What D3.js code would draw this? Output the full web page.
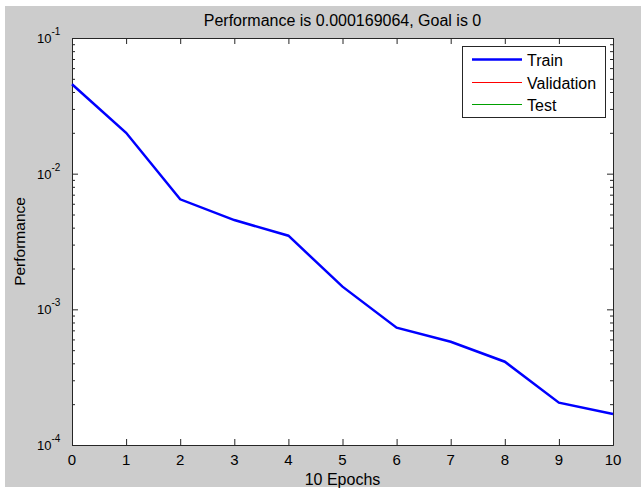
<html>
<head>
<script src="https://d3js.org/d3.v7.min.js"></script>
<style>
  body { margin: 0; background: #fff; }
  text { font-family: "Liberation Sans", Arial, sans-serif; fill: #000; }
  .ax .domain { stroke: #262626; }
  .ax line { stroke: #262626; }
</style>
</head>
<body>
<script>
// data
const epochs = [0, 1, 2, 3, 4, 5, 6, 7, 8, 9, 10];
const trainPerf = [0.0456, 0.0200, 0.00647, 0.00455, 0.00349, 0.00147, 0.000732, 0.000577, 0.000411, 0.000205, 0.000169];
const yMajor = [1e-4, 1e-3, 1e-2, 1e-1];
const yExp = [-4, -3, -2, -1];
const legendNames = ['Train', 'Validation', 'Test'];
const legendColors = ['#0000ff', '#ff0000', '#00a000'];
const legendWidths = [2.5, 1, 1];

const W = 641, H = 497;
const svg = d3.select('body').append('svg').attr('width', W).attr('height', H);

// figure background
svg.append('rect').attr('x', 5).attr('y', 6).attr('width', W - 5).attr('height', 481).attr('fill', '#cccccc');

const m = {left: 72, top: 38, right: 613, bottom: 445};
const pw = m.right - m.left, ph = m.bottom - m.top;

const x = d3.scaleLinear().domain([0, 10]).range([0, pw]);
const y = d3.scaleLog().domain([1e-4, 1e-1]).range([ph, 0]);

const g = svg.append('g').attr('transform', `translate(${m.left},${m.top})`);
g.append('rect').attr('width', pw).attr('height', ph).attr('fill', '#fff');

// minor ticks for log axis
let minors = [];
[1e-4, 1e-3, 1e-2].forEach(d => { for (let k = 2; k <= 9; k++) minors.push(d * k); });

// bottom + top axes
g.append('g').attr('class', 'ax').attr('transform', `translate(0,${ph})`)
  .call(d3.axisBottom(x).tickValues(epochs).tickSize(-6).tickSizeOuter(0).tickFormat(''));
g.append('g').attr('class', 'ax')
  .call(d3.axisTop(x).tickValues(epochs).tickSize(-6).tickSizeOuter(0).tickFormat(''));
// left + right axes
g.append('g').attr('class', 'ax')
  .call(d3.axisLeft(y).tickValues(yMajor).tickSize(-6).tickSizeOuter(0).tickFormat(''));
g.append('g').attr('class', 'ax')
  .call(d3.axisLeft(y).tickValues(minors).tickSize(-3).tickSizeOuter(0).tickFormat(''));
g.append('g').attr('class', 'ax').attr('transform', `translate(${pw},0)`)
  .call(d3.axisRight(y).tickValues(yMajor).tickSize(-6).tickSizeOuter(0).tickFormat(''));
g.append('g').attr('class', 'ax').attr('transform', `translate(${pw},0)`)
  .call(d3.axisRight(y).tickValues(minors).tickSize(-3).tickSizeOuter(0).tickFormat(''));

// x tick labels
g.selectAll('.xl').data(epochs).enter().append('text')
  .attr('x', d => x(d)).attr('y', ph + 20)
  .attr('text-anchor', 'middle').style('font-size', '15px')
  .text(d => d);

// y tick labels with superscripts
yMajor.forEach((d, i) => {
  const t = g.append('text').attr('x', -35).attr('y', y(d) + 5).style('font-size', '13px');
  t.append('tspan').text('10');
  t.append('tspan').attr('dy', -8).style('font-size', '10px').text(yExp[i]);
});

// train line
g.append('path')
  .datum(epochs.map((e, i) => [e, trainPerf[i]]))
  .attr('fill', 'none').attr('stroke', '#0000ff').attr('stroke-width', 2.5)
  .attr('d', d3.line().x(d => x(d[0])).y(d => y(d[1])));

// legend
const lg = svg.append('g');
lg.append('rect').attr('x', 462.5).attr('y', 46.5).attr('width', 143).attr('height', 71)
  .attr('fill', '#fff').attr('stroke', '#262626');
legendNames.forEach((n, i) => {
  const ly = [59.5, 82.5, 104.5][i];
  lg.append('line').attr('x1', 472).attr('x2', 522).attr('y1', ly).attr('y2', ly)
    .attr('stroke', legendColors[i]).attr('stroke-width', legendWidths[i]);
  lg.append('text').attr('x', 527).attr('y', ly + 6).style('font-size', '16px').text(n);
});

// title and labels
svg.append('text').attr('x', m.left + pw / 2).attr('y', 26).attr('text-anchor', 'middle')
  .style('font-size', '16px').text('Performance is 0.000169064, Goal is 0');
svg.append('text').attr('x', m.left + pw / 2).attr('y', 485).attr('text-anchor', 'middle')
  .style('font-size', '16px').text('10 Epochs');
svg.append('text').attr('transform', `translate(25,${m.top + ph / 2}) rotate(-90)`)
  .attr('text-anchor', 'middle').style('font-size', '15.5px').text('Performance');
</script>
</body>
</html>
